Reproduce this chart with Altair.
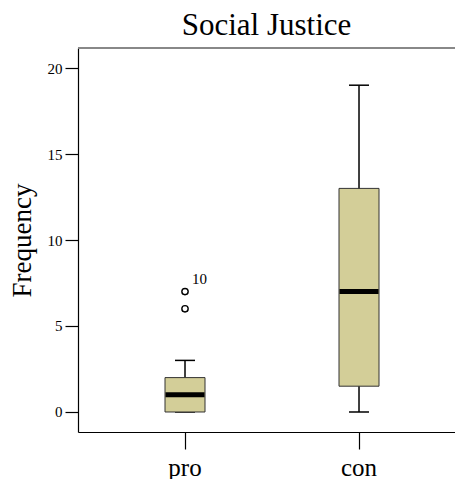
import altair as alt
import pandas as pd

groups = ["pro", "con"]
whisker_low = [0, 0]
q1 = [0, 1.5]
median = [1, 7]
q3 = [2, 13]
whisker_high = [3, 19]
outlier_group = ["pro", "pro"]
outlier_value = [7, 6]
outlier_label = ["10", ""]

FONT = "Liberation Serif"
W, H = 377, 384

box = pd.DataFrame({"group": groups, "lo": whisker_low, "q1": q1, "med": median,
                    "q3": q3, "hi": whisker_high})
out = pd.DataFrame({"group": outlier_group, "value": outlier_value, "label": outlier_label})

xscale = alt.Scale(domain=groups, paddingInner=0, paddingOuter=0.0833, align=0.69)
yscale = alt.Scale(domain=[-1.163, 21.163], nice=False, zero=False)

x = alt.X("group:N", scale=xscale, sort=groups,
          axis=alt.Axis(title=None, labelAngle=0, labelFontSize=25, labelFont=FONT,
                        labelColor="black", tickSize=17, tickColor="black",
                        domainColor="black", labelPadding=6, tickWidth=1.2, domainWidth=1.2))
yaxis = alt.Axis(title="Frequency", values=[0, 5, 10, 15, 20], grid=False,
                 titleFont=FONT, titleFontSize=27, titleFontWeight="normal", titleColor="black",
                 labelFont=FONT, labelFontSize=15, labelColor="black", tickSize=13,
                 tickColor="black", domainColor="black", labelPadding=3, titlePadding=11,
                 tickWidth=1.2, domainWidth=1.2)

base = alt.Chart(box)

whisk = base.mark_rule(color="black", strokeWidth=1.5).encode(
    x=x, y=alt.Y("lo:Q", scale=yscale, axis=yaxis), y2="hi:Q")
caps_hi = base.mark_tick(color="black", size=20, thickness=1.5, opacity=1).encode(
    x=x, y=alt.Y("hi:Q", scale=yscale))
caps_lo = base.mark_tick(color="black", size=20, thickness=1.5, opacity=1).encode(
    x=x, y=alt.Y("lo:Q", scale=yscale))
bars = base.mark_bar(size=40, color="#D3CE98", stroke="#333333", strokeWidth=1, opacity=1).encode(
    x=x, y=alt.Y("q1:Q", scale=yscale), y2="q3:Q")
med = base.mark_tick(color="black", size=39, thickness=5, opacity=1).encode(
    x=x, y=alt.Y("med:Q", scale=yscale))

pts = alt.Chart(out).mark_point(shape="circle", size=40, color="black", filled=False,
                                 strokeWidth=1.4, opacity=1).encode(
    x=x, y=alt.Y("value:Q", scale=yscale))
lbl = alt.Chart(out).mark_text(font=FONT, fontSize=15, align="left", baseline="alphabetic",
                                dx=7, dy=-8, color="black").encode(
    x=x, y=alt.Y("value:Q", scale=yscale), text="label:N")

topline = alt.Chart(box).mark_rule(color="#808080", strokeWidth=1.5).encode(
    x=alt.value(0), x2=alt.value(W), y=alt.value(0))

chart = alt.layer(topline, whisk, caps_hi, caps_lo, bars, med, pts, lbl).properties(
    width=W, height=H,
    title=alt.TitleParams("Social Justice", font=FONT, fontSize=31, fontWeight="normal",
                          color="black", offset=5),
    autosize=alt.AutoSizeParams(type="none"),
    padding={"left": 70, "top": 40, "right": 0, "bottom": 47},
).configure_view(stroke=None)

chart.save("out.html", embed_options={"renderer": "svg", "actions": False})
